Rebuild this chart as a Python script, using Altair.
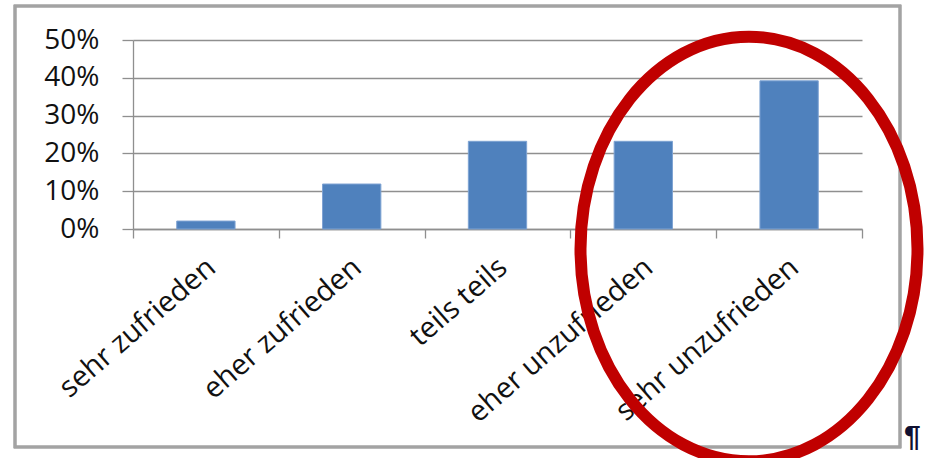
import altair as alt
import pandas as pd

categories = ["sehr zufrieden", "eher zufrieden", "teils teils", "eher unzufrieden", "sehr unzufrieden"]
shares = [0.021, 0.119, 0.232, 0.232, 0.392]
y_ticks = [0.0, 0.1, 0.2, 0.3, 0.4, 0.5]

df = pd.DataFrame({"cat": categories, "share": shares})

FONT = "Open Sans"
GRID = "#8f8f8f"

PL, PT, PR, PB = 133, 40, 72, 229
W, H = 934 - PL - PR, 458 - PT - PB

bars = alt.Chart(df).mark_bar(
    width=alt.RelativeBandSize(0.4), color="#4f81bd", stroke="#7ea3d3", strokeWidth=1
).encode(
    x=alt.X("cat:N", sort=categories, title=None,
            scale=alt.Scale(paddingInner=0, paddingOuter=0),
            axis=alt.Axis(tickBand="extent", labelAngle=319, labelAlign="right",
                          labelBaseline="middle", labelOffset=5, labelPadding=25,
                          labelFontSize=29, labelFont=FONT, labelColor="#111",
                          tickSize=9, tickColor=GRID, domainColor=GRID,
                          tickWidth=1.3, domainWidth=1.3, grid=False, labelLimit=400)),
    y=alt.Y("share:Q", title=None,
            scale=alt.Scale(domain=[0, 0.5], nice=False),
            axis=alt.Axis(values=y_ticks, format=".0%", grid=True, gridColor=GRID,
                          gridWidth=1.3, tickSize=11, tickColor=GRID, tickWidth=1.3,
                          domainColor=GRID, domainWidth=1.3, labelFontSize=28,
                          labelFont=FONT, labelColor="#111", labelPadding=23)),
)

frame = alt.Chart(df).mark_rect(fillOpacity=0, stroke="#a3a3a3", strokeWidth=2.5).encode(
    x=alt.value(15 - PL), x2=alt.value(900 - PL),
    y=alt.value(6 - PT), y2=alt.value(447 - PT),
)

ellipse_path = "M0,-1.26 A1,1.26 0 1,1 0,1.26 A1,1.26 0 1,1 0,-1.26 Z"
ellipse = alt.Chart(df.head(1)).mark_point(
    shape=ellipse_path, size=(2 * 168.5) ** 2, filled=False,
    stroke="#c00000", strokeWidth=12, opacity=1,
).encode(x=alt.value(749 - PL), y=alt.value(249 - PT))

pilcrow = alt.Chart(df.head(1)).mark_text(
    text="¶", fontSize=30, fontWeight="bold", font="Liberation Sans",
    align="left", baseline="alphabetic", color="#101030",
).encode(x=alt.value(904 - PL), y=alt.value(446 - PT))

chart = alt.layer(frame, bars, ellipse, pilcrow).properties(
    width=W, height=H,
    autosize=alt.AutoSizeParams(type="none"),
    padding={"left": PL, "top": PT, "right": PR, "bottom": PB},
    background="white",
).configure_view(strokeWidth=0)

chart.save("out.html", embed_options={"renderer": "svg", "actions": False})
